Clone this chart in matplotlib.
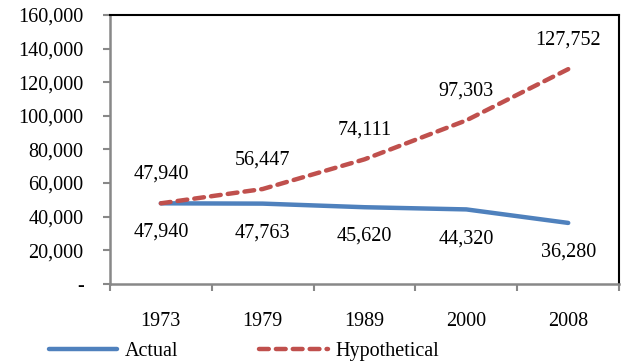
import matplotlib
matplotlib.use("Agg")
import matplotlib.pyplot as plt
from matplotlib.ticker import FuncFormatter, FixedLocator

plt.rcParams['font.family'] = ['Liberation Serif', 'DejaVu Serif']

years = ["1973", "1979", "1989", "2000", "2008"]
actual = [47940, 47763, 45620, 44320, 36280]
hypothetical = [47940, 56447, 74111, 97303, 127752]

BLUE = "#4F81BD"
RED = "#C0504D"
FS = 14.5

fig = plt.figure(figsize=(6.21, 3.64), dpi=100)
ax = fig.add_axes([0.177, 0.22, 0.82, 0.739])

x = range(len(years))
ax.plot(x, actual, color=BLUE, lw=3.2, solid_capstyle="round", label="Actual")
ax.plot(x, hypothetical, color=RED, lw=3.2, ls=(0, (2.2, 1.6)),
        dash_capstyle="round", label="Hypothetical")

# value labels: actual below the line, hypothetical above
for i, v in enumerate(actual):
    ax.annotate(f"{v:,}", (i, v), xytext=(0, -21), textcoords="offset points",
                ha="center", va="center", fontsize=FS)
for i, v in enumerate(hypothetical):
    ax.annotate(f"{v:,}", (i, v), xytext=(0, 21), textcoords="offset points",
                ha="center", va="center", fontsize=FS)

ax.set_xlim(-0.5, len(years) - 0.5)
ax.set_ylim(0, 160000)
ax.set_yticks(range(0, 160001, 20000))
ax.yaxis.set_major_formatter(FuncFormatter(lambda v, p: "-" if v == 0 else f"{int(v):,}"))

# category labels centred, tick marks on the boundaries
ax.set_xticks(list(x))
ax.set_xticklabels(years)
ax.tick_params(axis="x", which="major", length=0, pad=20, labelsize=FS)
ax.xaxis.set_minor_locator(FixedLocator([i - 0.5 for i in range(len(years) + 1)]))
ax.tick_params(axis="x", which="minor", length=5, width=1.5, color="#888888")
ax.tick_params(axis="y", length=5, width=1.5, color="#888888", labelsize=FS, pad=14)

for side in ("left", "bottom"):
    ax.spines[side].set_color("#888888")
    ax.spines[side].set_linewidth(1.8)
for side in ("top", "right"):
    ax.spines[side].set_color("black")
    ax.spines[side].set_linewidth(1.5)

fig.legend(loc="center", bbox_to_anchor=(0.393, 0.035), ncol=2, frameon=False,
           fontsize=FS, handlelength=3.4, columnspacing=4.0, handletextpad=0.4,
           borderpad=0, borderaxespad=0)

fig.savefig("out.png", dpi=100)
